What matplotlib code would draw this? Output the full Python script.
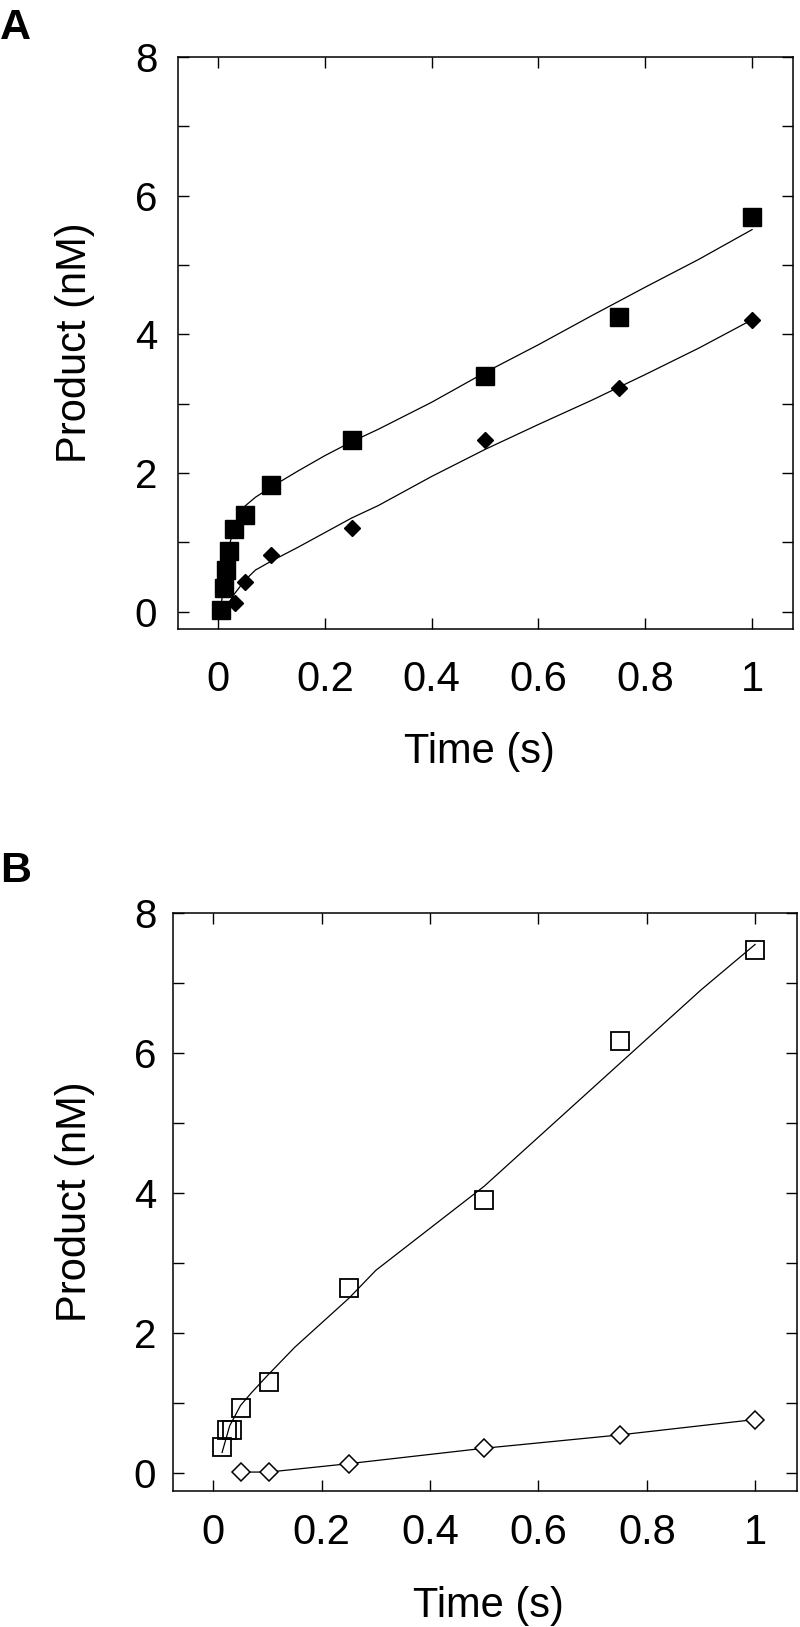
import numpy as np
import matplotlib
matplotlib.use('Agg')
import matplotlib.pyplot as plt

plt.rcParams['font.family'] = ['Liberation Sans', 'DejaVu Sans']

# ---- panel A data (filled symbols) ----
A_sq_t = [0.005, 0.011, 0.015, 0.02, 0.03, 0.05, 0.1, 0.25, 0.5, 0.75, 1.0]
A_sq_y = [0.02, 0.34, 0.60, 0.88, 1.19, 1.40, 1.82, 2.47, 3.40, 4.25, 5.69]
A_di_t = [0.032, 0.05, 0.1, 0.25, 0.5, 0.75, 1.0]
A_di_y = [0.13, 0.43, 0.81, 1.20, 2.47, 3.23, 4.21]

# fitted curves
A_fit_sq_t = [0.005, 0.01, 0.015, 0.02, 0.03, 0.04, 0.05, 0.07, 0.1, 0.15, 0.2, 0.25,
              0.3, 0.4, 0.5, 0.6, 0.7, 0.8, 0.9, 1.0]
A_fit_sq_y = [0.02, 0.38, 0.68, 0.92, 1.22, 1.40, 1.52, 1.65, 1.80, 2.03, 2.25, 2.45,
              2.63, 3.02, 3.45, 3.85, 4.27, 4.68, 5.08, 5.51]
A_fit_di_t = [0.02, 0.03, 0.05, 0.07, 0.1, 0.15, 0.2, 0.25, 0.3, 0.4, 0.5, 0.6,
              0.7, 0.8, 0.9, 1.0]
A_fit_di_y = [0.12, 0.25, 0.45, 0.60, 0.73, 0.93, 1.14, 1.35, 1.53, 1.95, 2.34, 2.70,
              3.05, 3.42, 3.80, 4.21]

# ---- panel B data (open symbols) ----
B_sq_t = [0.016, 0.025, 0.034, 0.051, 0.102, 0.25, 0.5, 0.75, 1.0]
B_sq_y = [0.38, 0.62, 0.62, 0.94, 1.30, 2.65, 3.90, 6.17, 7.47]
B_di_t = [0.051, 0.102, 0.25, 0.5, 0.75, 1.0]
B_di_y = [0.02, 0.02, 0.14, 0.36, 0.55, 0.77]

B_fit_sq_t = [0.016, 0.03, 0.05, 0.07, 0.1, 0.15, 0.2, 0.25, 0.3, 0.4, 0.5, 0.6,
              0.7, 0.8, 0.9, 1.0]
B_fit_sq_y = [0.30, 0.68, 0.97, 1.15, 1.40, 1.80, 2.15, 2.50, 2.90, 3.50, 4.10, 4.80,
              5.50, 6.20, 6.90, 7.55]

x_ticks = [0, 0.2, 0.4, 0.6, 0.8, 1.0]
x_labels = ['0', '0.2', '0.4', '0.6', '0.8', '1']
y_ticks = [0, 1, 2, 3, 4, 5, 6, 7, 8]
y_labels = ['0', '', '2', '', '4', '', '6', '', '8']

fig = plt.figure(figsize=(8, 16.27), dpi=100)
axA = fig.add_axes([0.2225, 0.6134, 0.769, 0.3516])
axB = fig.add_axes([0.216, 0.0836, 0.780, 0.3553])


def style_axis(ax, xpad, ypad, xlab_pos, ylab_pos):
    ax.set_xlim(-0.075, 1.077)
    ax.set_ylim(-0.25, 8)
    ax.set_xticks(x_ticks)
    ax.set_xticklabels(x_labels)
    ax.set_yticks(y_ticks)
    ax.set_yticklabels(y_labels)
    ax.tick_params(direction='in', top=True, right=True, length=8, width=1.0)
    ax.tick_params(axis='x', pad=xpad, labelsize=30)
    ax.tick_params(axis='y', pad=ypad, labelsize=29)
    for sp in ax.spines.values():
        sp.set_linewidth(1.1)
    ax.set_xlabel('Time (s)', fontsize=30)
    ax.set_ylabel('Product (nM)', fontsize=30)
    ax.xaxis.set_label_coords(*xlab_pos)
    ax.yaxis.set_label_coords(*ylab_pos)


# panel A
axA.plot(A_fit_sq_t, A_fit_sq_y, '-', color='black', lw=0.9, zorder=2)
axA.plot(A_fit_di_t, A_fit_di_y, '-', color='black', lw=0.9, zorder=2)
axA.plot(A_di_t, A_di_y, 'D', color='black', markersize=8.5, zorder=3)
axA.plot(A_sq_t, A_sq_y, 's', color='black', markersize=13, zorder=4)
style_axis(axA, 22, 15, (0.49, -0.18), (-0.135, 0.5))

# panel B
axB.plot(B_fit_sq_t, B_fit_sq_y, '-', color='black', lw=0.9, zorder=2)
axB.plot(B_di_t, B_di_y, '-', color='black', lw=0.9, zorder=2)
axB.plot(B_di_t, B_di_y, 'D', markerfacecolor='white', markeredgecolor='black',
         markeredgewidth=1.1, markersize=9, linestyle='none', zorder=3)
axB.plot(B_sq_t, B_sq_y, 's', markerfacecolor='none', markeredgecolor='black',
         markeredgewidth=1.3, markersize=12.5, linestyle='none', zorder=4)
style_axis(axB, 16, 12, (0.506, -0.164), (-0.125, 0.5))

fig.text(0.0, 0.976, 'A', fontsize=31, fontweight='bold', ha='left', va='baseline')
fig.text(0.0, 0.458, 'B', fontsize=31, fontweight='bold', ha='left', va='baseline')

fig.savefig('out.png', dpi=100)
